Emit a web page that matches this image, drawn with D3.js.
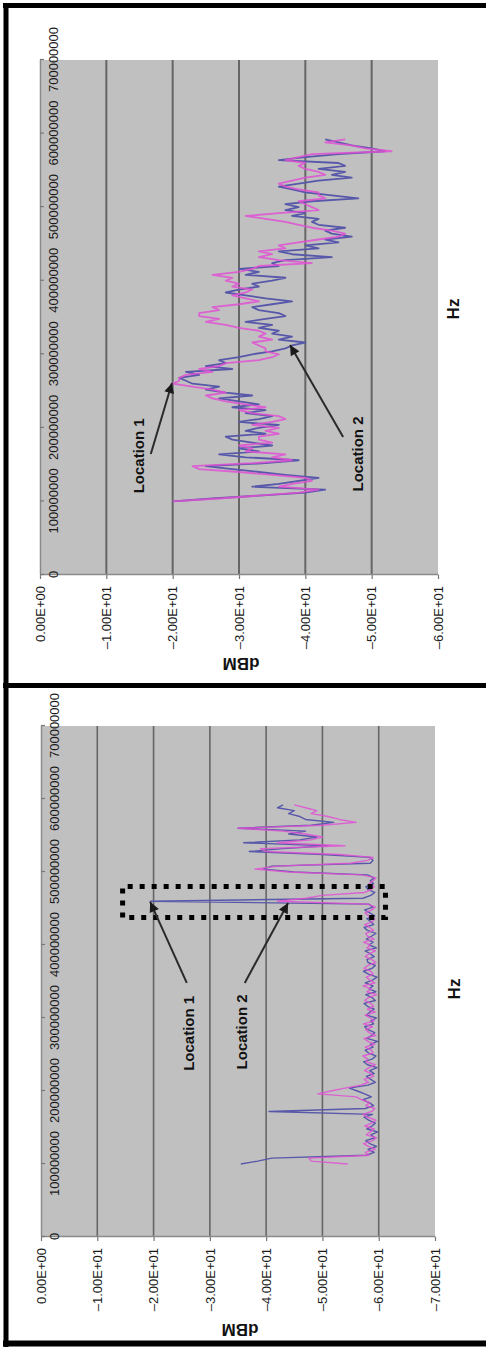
<!DOCTYPE html>
<html><head><meta charset="utf-8">
<script src="https://cdn.jsdelivr.net/npm/d3@7"></script>
<style>html,body{margin:0;padding:0;background:#fff;} svg{display:block;}</style>
</head><body>
<svg id="fig" width="486" height="1347"></svg>
<script>
// ---------- DATA ----------
// frequency samples (MHz)
const freqMHz = [
 100,104,108,112,116,120,124,128,132,136,
 140,144,148,152,156,160,164,168,172,176,
 180,184,188,192,196,200,204,208,212,216,
 220,224,228,232,236,240,244,248,252,256,
 260,264,268,272,276,280,284,288,292,296,
 300,304,308,312,316,320,324,328,332,336,
 340,344,348,352,356,360,364,368,372,376,
 380,384,388,392,396,400,404,408,412,416,
 420,424,428,432,436,440,444,448,452,456,
 460,464,468,472,476,480,484,488,492,496,
 500,504,508,512,516,520,524,528,532,536,
 540,544,548,552,556,560,564,568,572,576,
 580,584,588,592];

// left-hand (original) chart: 0 .. -70 dBM
const aBlue = [
 -35.5,-38.5,-41,-57.8,-59.2,-58.1,-59.6,-58.4,-57.7,-59.3,
 -58.6,-59.8,-57.9,-58.8,-59.4,-58.2,-57.4,-58.9,-40.5,-57.6,
 -59.1,-58.3,-57.2,-58.7,-57.5,-56.2,-54.8,-58.1,-59.4,-58.6,
 -57.8,-59.2,-58.4,-59.7,-58.0,-57.3,-58.9,-59.5,-58.2,-57.6,
 -59.0,-58.5,-59.8,-57.9,-58.7,-59.3,-58.1,-57.5,-59.1,-58.6,
 -59.6,-57.8,-58.4,-59.2,-58.0,-57.4,-59.4,-58.8,-57.7,-59.5,
 -58.3,-59.0,-57.6,-58.9,-59.7,-58.2,-57.3,-58.8,-59.4,-58.1,
 -57.9,-59.2,-58.5,-57.6,-59.6,-58.3,-59.0,-57.8,-58.7,-59.5,
 -58.0,-57.4,-59.1,-58.6,-57.9,-59.3,-58.4,-57.5,-59.0,-58.2,
 -19.4,-57.2,-58.6,-59.3,-58.1,-57.7,-59.1,-58.5,-59.2,-58.0,
 -45,-39.5,-41,-58.5,-59,-58.4,-50,-37,-43,-51,
 -36,-46,-49,-44,-47,-35,-48,-52,-47,-46,
 -44,-45,-42,-43];
const aPink = [
 -54.5,-48,-47.6,-58.3,-57.6,-59.4,-58.2,-57.3,-58.9,-59.6,
 -57.8,-58.5,-59.2,-57.5,-58.7,-59.5,-58.0,-57.2,-58.8,-59.3,
 -57.7,-58.4,-57.0,-56.0,-49.2,-51.5,-54.0,-56.8,-58.2,-57.4,
 -59.1,-58.6,-57.5,-58.3,-59.4,-57.8,-58.0,-57.2,-59.0,-58.7,
 -57.6,-59.3,-58.1,-57.4,-59.5,-58.3,-57.7,-58.9,-57.3,-59.2,
 -58.5,-57.6,-59.4,-58.0,-59.1,-58.6,-57.5,-58.2,-59.6,-57.9,
 -58.7,-57.2,-59.3,-58.4,-57.8,-59.0,-58.6,-57.4,-58.1,-59.5,
 -58.8,-57.6,-58.3,-59.4,-57.9,-58.5,-57.3,-59.2,-58.0,-57.7,
 -59.1,-58.4,-57.5,-58.9,-59.3,-58.2,-57.6,-58.8,-59.4,-58.1,
 -42,-47,-50,-57.5,-58.6,-59.2,-58.3,-59.0,-59.5,-57,
 -44,-38,-42,-55,-58,-59,-53,-40,-39,-54,
 -42,-48,-50,-47,-43,-35,-50,-56,-53,-51,
 -48,-49,-47,-45];

// right-hand (original) chart: 0 .. -60 dBM
const bBlue = [
 -20,-26,-33,-40,-43,-32,-36,-39,-42,-37,
 -33,-29,-25,-34,-39,-31,-27,-33,-30,-35,
 -32,-29,-28,-34,-31,-33,-36,-30,-33,-35,
 -31,-34,-29,-33,-30,-27,-32,-28,-25,-27,
 -23,-22,-21,-24,-22,-29,-25,-28,-27,-30,
 -32,-35,-37,-38,-40,-36,-38,-35,-36,-33,
 -35,-31,-34,-37,-36,-33,-32,-35,-38,-34,
 -31,-28,-30,-33,-32,-35,-37,-31,-33,-30,
 -36,-35,-37,-44,-38,-36,-42,-40,-45,-43,
 -47,-44,-43,-46,-42,-41,-42,-38,-40,-37,
 -39,-37,-41,-48,-44,-40,-38,-36,-39,-42,
 -47,-44,-46,-42,-46,-45,-36,-40,-45,-52,
 -50,-47,-45,-43];
const bPink = [
 -20,-27,-33,-39,-42,-36,-38,-41,-40,-35,
 -30,-24,-23,-32,-38,-35,-37,-31,-32,-30,
 -35,-33,-33,-36,-34,-36,-32,-35,-37,-36,
 -32,-30,-34,-31,-28,-26,-25,-28,-26,-23,
 -20,-21,-21,-22,-26,-24,-27,-28,-33,-35,
 -36,-34,-34,-33,-32,-35,-33,-34,-33,-30,
 -28,-25,-27,-24,-24,-27,-26,-30,-33,-31,
 -29,-31,-32,-29,-30,-28,-29,-26,-30,-32,
 -33,-41,-36,-33,-35,-33,-37,-36,-39,-42,
 -45,-46,-44,-41,-39,-37,-34,-31,-36,-42,
 -41,-40,-39,-43,-42,-42,-39,-37,-36,-38,
 -40,-43,-42,-40,-39,-40,-37,-39,-41,-53,
 -49,-47,-43,-46];

// axis ticks
const hzTicks = [0,100000000,200000000,300000000,400000000,500000000,600000000,700000000];
const hzLabels = ["0","100000000","200000000","300000000","400000000","500000000","600000000","700000000"];
const dbTicksA = [0,-10,-20,-30,-40,-50,-60,-70];
const dbLabelsA = ["0.00E+00","\u20131.00E+01","\u20132.00E+01","\u20133.00E+01","\u20134.00E+01","\u20135.00E+01","\u20136.00E+01","\u20137.00E+01"];
const dbTicksB = [0,-10,-20,-30,-40,-50,-60];
const dbLabelsB = ["0.00E+00","\u20131.00E+01","\u20132.00E+01","\u20133.00E+01","\u20134.00E+01","\u20135.00E+01","\u20136.00E+01"];

// annotations (Hz in MHz, dBM)
const annotLabelsA = [{t:"Location 1", f:279, db:-26.2},{t:"Location 2", f:281, db:-35.6}];
const annotArrowsA = [{f0:348, d0:-25.9, f1:459, d1:-19.4},{f0:348, d0:-36.2, f1:457.5, d1:-43.9}];
const boxA = {f0:437.7, f1:480.1, d0:-14.5, d1:-61.2};
const annotLabelsB = [{t:"Location 1", f:162, db:-14.9},{t:"Location 2", f:164.5, db:-47.9}];
const annotArrowsB = [{f0:164.5, d0:-16.7, f1:261, d1:-19.9},{f0:187.6, d0:-45.7, f1:312.6, d1:-37.7}];

// ---------- DRAW ----------
const W = 486, H = 1347;
const FONT = "'Liberation Sans', Arial, Helvetica, sans-serif";
const svg = d3.select('#fig');
svg.append('rect').attr('width', W).attr('height', H).attr('fill', '#fff');
const defs = svg.append('defs');
defs.append('marker').attr('id','ah').attr('viewBox','0 0 10 10')
  .attr('refX',10).attr('refY',5).attr('markerWidth',13).attr('markerHeight',10)
  .attr('markerUnits','userSpaceOnUse').attr('orient','auto')
  .append('path').attr('d','M0,0 L10,5 L0,10 z').attr('fill','#1a1a1a');

// whole figure is rotated -90deg: local (u,v) -> screen (v, H-u)
const root = svg.append('g').attr('transform', `translate(0,${H}) rotate(-90)`);

function drawChart(c) {
  const g = root.append('g');
  const x = d3.scaleLinear().domain([0, 7e8]).range([c.u0, c.u1]);
  const y = d3.scaleLinear().domain([0, c.yMin]).range([c.v0, c.v1]);

  g.append('rect').attr('x', c.u0).attr('y', c.v0)
    .attr('width', c.u1 - c.u0).attr('height', c.v1 - c.v0).attr('fill', '#c0c0c0');

  g.selectAll('line.grid').data(c.dbTicks.filter(d => d < 0 && d > c.yMin)).enter()
    .append('line').attr('class','grid')
    .attr('x1', c.u0).attr('x2', c.u1).attr('y1', d => y(d)).attr('y2', d => y(d))
    .attr('stroke', '#666').attr('stroke-width', c.gw);

  // dBM axis (original left)
  const ay = g.append('g').attr('transform', `translate(${c.u0},0)`)
    .call(d3.axisLeft(y).tickValues(c.dbTicks).tickFormat((d,i) => c.dbLabels[i])
      .tickSizeInner(4).tickSizeOuter(0).tickPadding(7));
  ay.select('.domain').attr('stroke', '#8a8a8a').attr('stroke-width', 1.5);
  ay.selectAll('.tick line').attr('stroke', '#777').attr('stroke-width', 1.2);
  ay.selectAll('.tick text').attr('fill', '#1a1a1a').style('font-family', FONT).style('font-size', '13px');

  // Hz axis (original top, labels inside the plot)
  const ax = g.append('g').attr('transform', `translate(0,${c.v0})`)
    .call(d3.axisBottom(x).tickValues(hzTicks).tickFormat((d,i) => hzLabels[i])
      .tickSizeInner(4).tickSizeOuter(0).tickPadding(5));
  ax.select('.domain').attr('stroke', '#8a8a8a').attr('stroke-width', 1.5);
  ax.selectAll('.tick line').attr('stroke', '#777').attr('stroke-width', 1.2);
  ax.selectAll('.tick text').attr('fill', '#1a1a1a').style('font-family', FONT).style('font-size', '13px');

  const line = d3.line().x((d, i) => x(freqMHz[i] * 1e6)).y(d => y(d));
  g.append('path').datum(c.blue).attr('d', line).attr('fill', 'none')
    .attr('stroke', '#5858aa').attr('stroke-width', c.lw).attr('stroke-linejoin','round');
  g.append('path').datum(c.pink).attr('d', line).attr('fill', 'none')
    .attr('stroke', '#e050d4').attr('stroke-width', c.lw).attr('stroke-opacity', 0.85).attr('stroke-linejoin','round');

  if (c.box) {
    const b = c.box;
    g.append('rect').attr('x', x(b.f0 * 1e6)).attr('y', y(b.d0))
      .attr('width', x(b.f1 * 1e6) - x(b.f0 * 1e6)).attr('height', y(b.d1) - y(b.d0))
      .attr('fill', 'none').attr('stroke', '#000').attr('stroke-width', 5)
      .attr('stroke-dasharray', '5,7');
  }

  g.selectAll('line.arrow').data(c.arrows).enter().append('line').attr('class','arrow')
    .attr('x1', d => x(d.f0 * 1e6)).attr('y1', d => y(d.d0))
    .attr('x2', d => x(d.f1 * 1e6)).attr('y2', d => y(d.d1))
    .attr('stroke', '#2a2a2a').attr('stroke-width', 2).attr('marker-end', 'url(#ah)');

  g.selectAll('text.loc').data(c.labels).enter().append('text').attr('class','loc')
    .attr('x', d => x(d.f * 1e6)).attr('y', d => y(d.db)).attr('dy', '0.36em')
    .attr('text-anchor', 'middle').style('font-family', FONT).style('font-size', '15px')
    .style('font-weight', 'bold').attr('fill', '#111').text(d => d.t);

  g.append('text').attr('transform', `translate(${c.dbTitleU},${c.dbTitleV}) rotate(-90)`)
    .attr('dy', '0.36em').attr('text-anchor', 'middle').style('font-family', FONT)
    .style('font-size', '17px').style('font-weight', 'bold').attr('fill', '#111').text('dBM');
  g.append('text').attr('x', c.hzTitleU).attr('y', c.hzTitleV).attr('dy', '0.36em')
    .attr('text-anchor', 'middle').style('font-family', FONT)
    .style('font-size', '17px').style('font-weight', 'bold').attr('fill', '#111').text('Hz');
}

// original right chart (screen top)
drawChart({u0: H - 575, u1: H - 60, v0: 40, v1: 438, yMin: -60, gw: 2, lw: 1.8,
  dbTicks: dbTicksB, dbLabels: dbLabelsB, blue: bBlue, pink: bPink,
  arrows: annotArrowsB, labels: annotLabelsB, box: null,
  dbTitleU: H - 664, dbTitleV: 241, hzTitleU: H - 309, hzTitleV: 453});
// original left chart (screen bottom)
drawChart({u0: H - 1237, u1: H - 726, v0: 41, v1: 435, yMin: -70, gw: 1.6, lw: 1.4,
  dbTicks: dbTicksA, dbLabels: dbLabelsA, blue: aBlue, pink: aPink,
  arrows: annotArrowsA, labels: annotLabelsA, box: boxA,
  dbTitleU: H - 1330, dbTitleV: 240, hzTitleU: H - 989, hzTitleV: 454});

// frame
const frame = svg.append('g').attr('stroke', '#000');
frame.append('line').attr('x1', 3).attr('x2', W).attr('y1', 5.5).attr('y2', 5.5).attr('stroke-width', 5);
frame.append('line').attr('x1', 6).attr('x2', 6).attr('y1', 3).attr('y2', H).attr('stroke-width', 5);
frame.append('line').attr('x1', 3).attr('x2', W).attr('y1', 685.5).attr('y2', 685.5).attr('stroke-width', 5);
frame.append('line').attr('x1', 3).attr('x2', W).attr('y1', 1343.5).attr('y2', 1343.5).attr('stroke-width', 6);
</script>
</body></html>
